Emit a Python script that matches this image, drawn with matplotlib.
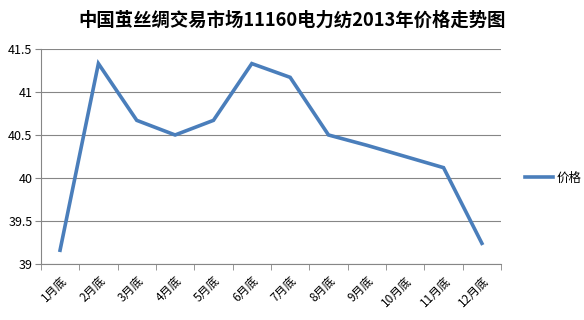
import matplotlib
matplotlib.use("Agg")
import matplotlib.pyplot as plt
import numpy as np

plt.rcParams['font.family'] = ['Noto Sans CJK SC', 'DejaVu Sans']

months = ["1月底", "2月底", "3月底", "4月底", "5月底", "6月底",
          "7月底", "8月底", "9月底", "10月底", "11月底", "12月底"]
prices = [39.16, 41.33, 40.67, 40.50, 40.67, 41.33,
          41.17, 40.50, 40.38, 40.25, 40.12, 39.24]
title = "中国茧丝绸交易市场11160电力纺2013年价格走势图"
series_name = "价格"

fig = plt.figure(figsize=(5.84, 3.2), dpi=100)
ax = fig.add_axes([0.070, 0.175, 0.788, 0.672])

x = np.arange(len(months))
line_color = "#4A7EBB"
ax.plot(x, prices, color=line_color, linewidth=2.6, label=series_name,
        solid_joinstyle='miter', zorder=3)

ax.set_xlim(-0.5, len(months) - 0.5)
ax.set_ylim(39, 41.5)
ax.set_yticks(np.arange(39, 41.51, 0.5))
ax.set_yticklabels(["39", "39.5", "40", "40.5", "41", "41.5"], fontsize=9)
ax.grid(axis='y', color='#868686', linewidth=0.8)
ax.set_axisbelow(True)

ax.set_xticks(x)
ax.set_xticklabels(months, rotation=45, ha='right', rotation_mode='anchor', fontsize=8.5)
ax.tick_params(axis='x', which='major', length=0, pad=7)
ax.set_xticks(np.arange(-0.5, len(months)), minor=True)
ax.tick_params(axis='x', which='minor', length=4, color='#868686', direction='out')
ax.tick_params(axis='y', length=4, color='#868686', pad=2)

for s in ['top', 'right']:
    ax.spines[s].set_visible(False)
for s in ['left', 'bottom']:
    ax.spines[s].set_color('#868686')
    ax.spines[s].set_linewidth(0.8)

fig.text(0.5, 0.965, title, ha='center', va='top', fontsize=13.2, fontweight='bold')

leg = fig.legend(loc='center left', bbox_to_anchor=(0.88, 0.444), frameon=False,
                 fontsize=9, handlelength=2.2, handletextpad=0.3)

fig.savefig("out.png", dpi=100)
